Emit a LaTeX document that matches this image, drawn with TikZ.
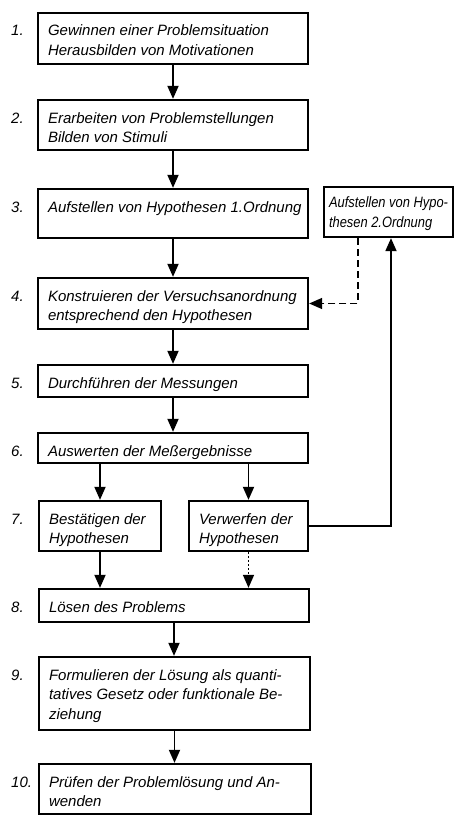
\documentclass[tikz,border=0pt]{standalone}
\usepackage{fontspec}
\setmainfont{Liberation Sans}
\newfontfamily\condfont[FakeStretch=0.86]{Liberation Sans}
\usetikzlibrary{arrows.meta}
\newcommand\bxt[3]{\parbox[c][\dimexpr#1pt-18.7pt\relax][t]{\dimexpr#2pt-20pt\relax}{\begin{tabular}[t]{@{}l@{}}#3\end{tabular}}}
\begin{document}
\begin{tikzpicture}[x=1pt,y=-1pt,
  txt/.style={font=\fontsize{15}{19.5}\selectfont\itshape},
  mbox/.style n args={2}{draw, line width=2.3pt, inner sep=0pt, minimum width=#1pt, minimum height=#2pt, txt},
  lbl/.style={txt, anchor=base west, inner sep=0pt},
  arr/.style={line width=1.8pt, -{Triangle[length=13pt,width=11pt]}},
  dsh/.style={line width=1.4pt, -{Triangle[length=13pt,width=11pt]}, dash pattern=on 7pt off 4pt},
  dtt/.style={line width=1.4pt, -{Triangle[length=13pt,width=11pt]}, dash pattern=on 2pt off 2pt},
]
\useasboundingbox[fill=white] (0,0) rectangle (455,816);

% main boxes
\node[mbox={270}{51}] (b1) at (173,38.5) {\bxt{51}{270}{Gewinnen einer Problemsituation\\Herausbilden von Motivationen}};
\node[mbox={270}{50}] (b2) at (173,125) {\bxt{50}{270}{Erarbeiten von Problemstellungen\\Bilden von Stimuli}};
\node[mbox={270}{49}] (b3) at (173,213.5) {\bxt{49}{270}{Aufstellen von Hypothesen 1.Ordnung}};
\node[mbox={270}{51}] (b4) at (173,303.5) {\bxt{51}{270}{Konstruieren der Versuchsanordnung\\entsprechend den Hypothesen}};
\node[mbox={270}{32}] (b5) at (173,381) {\bxt{32}{270}{Durchführen der Messungen}};
\node[mbox={270}{30}] (b6) at (173,448) {\bxt{30}{270}{Auswerten der Meßergebnisse}};
\node[mbox={122}{50}] (b7a) at (100,526) {\bxt{50}{122}{Bestätigen der\\Hypothesen}};
\node[mbox={119}{50}] (b7b) at (248.5,526) {\bxt{50}{119}{Verwerfen der\\Hypothesen}};
\node[mbox={270}{33}] (b8) at (174,605.5) {\bxt{33}{270}{Lösen des Problems}};
\node[mbox={271}{73}] (b9) at (174.5,693.5) {\bxt{73}{271}{Formulieren der Lösung als quanti-\\tatives Gesetz oder funktionale Be-\\ziehung}};
\node[mbox={272}{50}] (b10) at (175,789) {\bxt{50}{272}{Prüfen der Problemlösung und An-\\wenden}};

% side box
\node[draw, line width=2.3pt, inner sep=0pt, minimum width=129pt, minimum height=50pt] (side) at (388.5,212)
  {\parbox[c][38pt][t]{119pt}{\condfont\itshape\fontsize{15}{20}\selectfont
   \begin{tabular}[t]{@{}l@{}}Aufstellen von Hypo-\\thesen 2.Ordnung\end{tabular}}};

% step numbers
\node[lbl] (l1) at (11,36) {1.};
\node[lbl] (l2) at (11,123) {2.};
\node[lbl] (l3) at (11,212) {3.};
\node[lbl] (l4) at (11,301) {4.};
\node[lbl] (l5) at (11,388) {5.};
\node[lbl] (l6) at (11,456) {6.};
\node[lbl] (l7) at (11,524) {7.};
\node[lbl] (l8) at (11,612) {8.};
\node[lbl] (l9) at (11,680) {9.};
\node[lbl] (l10) at (11,787) {10.};

% connectors
\draw[arr] (b1.south) -- (b1.south |- b2.north);
\draw[arr] (b2.south) -- (b2.south |- b3.north);
\draw[arr] (b3.south) -- (b3.south |- b4.north);
\draw[arr] (b4.south) -- (b4.south |- b5.north);
\draw[arr] (b5.south) -- (b5.south |- b6.north);
\draw[arr] (b6.south -| b7a.north) -- (b7a.north);
\draw[arr] (b6.south -| b7b.north) -- (b7b.north);
\draw[arr] (b7a.south) -- (b7a.south |- b8.north);
\draw[dtt] (b7b.south) -- (b7b.south |- b8.north);
\draw[arr] (b8.south) -- (b8.south |- b9.north);
\draw[arr] (b9.south) -- (b9.south |- b10.north);
\draw[arr] (b7b.east) -| ([xshift=2.5pt]side.south);
\draw[dsh] ([xshift=-30.5pt]side.south) |- (b4.east);
\end{tikzpicture}
\end{document}
